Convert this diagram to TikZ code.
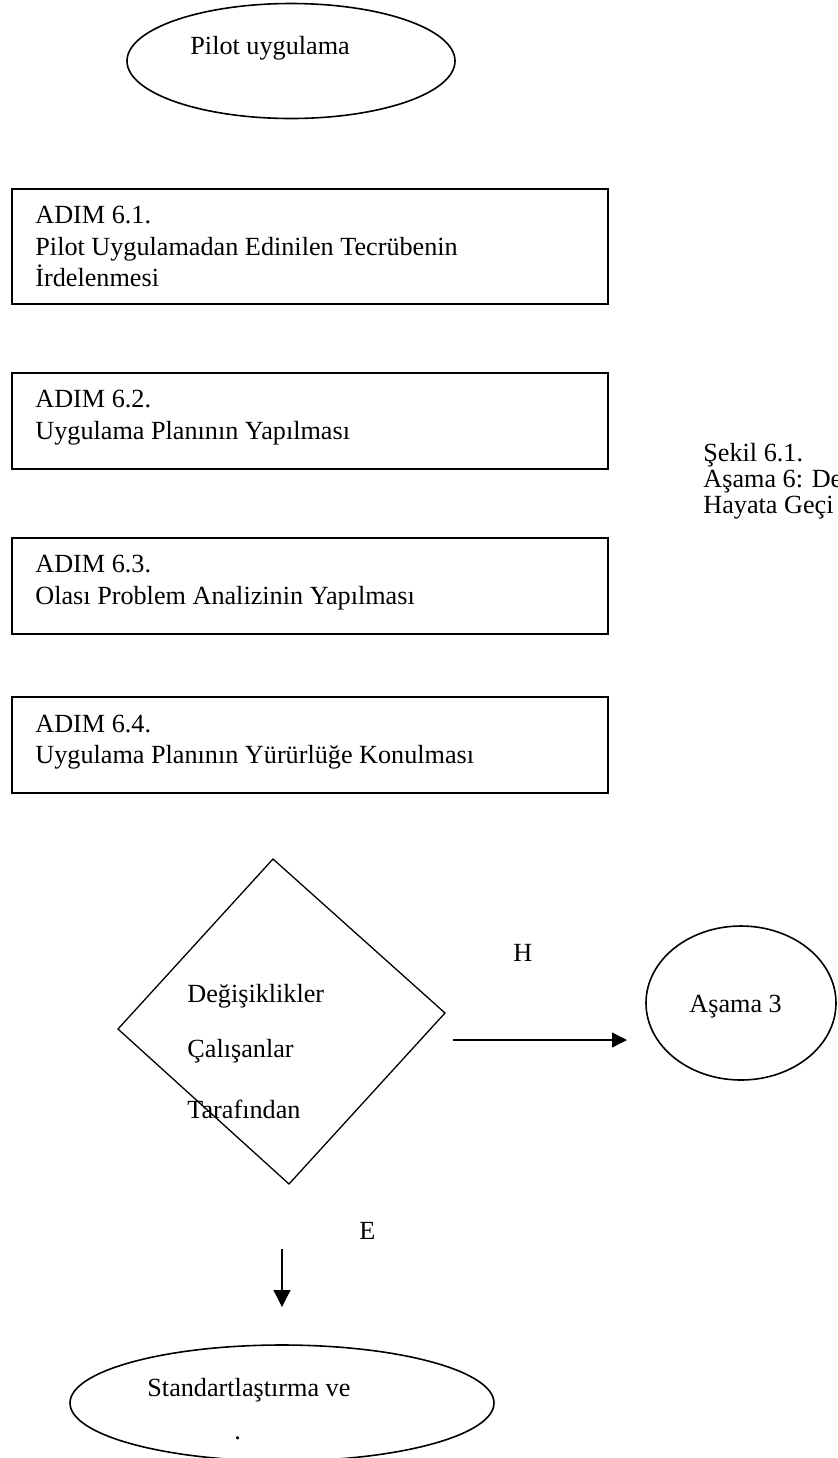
\documentclass[tikz,border=0pt]{standalone}
\usepackage{fontspec}
\setmainfont{Liberation Serif}
\usetikzlibrary{arrows.meta, shapes.geometric}

\tikzset{
  stepbox/.style={draw, line width=1pt, rectangle, inner sep=0pt},
  oval/.style={draw, line width=0.8pt, ellipse, inner sep=0pt},
  label text/.style={anchor=base west, inner sep=0pt, font=\fontsize{13.1}{16}\selectfont},
  flow arrow/.style={line width=0.6pt, -{Triangle[length=7.5pt, width=7.5pt]}},
}

\begin{document}
\begin{tikzpicture}[x=0.5pt, y=-0.5pt]
\useasboundingbox (0,0) rectangle (837,1458);
\clip (0,0) rectangle (837,1458);

% start of the stage
\node[oval, minimum width=164pt, minimum height=57.5pt] (pilot) at (291,61) {};
\node[label text] (pilottxt) at (190,54) {Pilot uygulama};

% steps of the stage
\node[stepbox, minimum width=298pt, minimum height=57.5pt] (s1) at (310,246.5) {};
\node[label text] (s1a) at (35,223) {ADIM 6.1.};
\node[label text] (s1b) at (35,255) {Pilot Uygulamadan Edinilen Tecrübenin};
\node[label text] (s1c) at (35,286) {İrdelenmesi};

\node[stepbox, minimum width=298pt, minimum height=48pt] (s2) at (310,421) {};
\node[label text] (s2a) at (35,407) {ADIM 6.2.};
\node[label text] (s2b) at (35,439) {Uygulama Planının Yapılması};

\node[stepbox, minimum width=298pt, minimum height=48pt] (s3) at (310,586) {};
\node[label text] (s3a) at (35,572) {ADIM 6.3.};
\node[label text] (s3b) at (35,604) {Olası Problem Analizinin Yapılması};

\node[stepbox, minimum width=298pt, minimum height=48pt] (s4) at (310,745) {};
\node[label text] (s4a) at (35,732) {ADIM 6.4.};
\node[label text] (s4b) at (35,763) {Uygulama Planının Yürürlüğe Konulması};

% figure caption on the right
\node[label text] (cap1) at (703,461) {Şekil 6.1.};
\node[label text] (cap2) at (703,487) {Aşama 6: De};
\node[label text] (cap3) at (703,513) {Hayata Geçi};

% decision
\coordinate (dtop) at (273,859);
\coordinate (dright) at (445,1013);
\coordinate (dbottom) at (289,1184);
\coordinate (dleft) at (118,1029);
\draw[line width=0.65pt] (dtop) -- (dright) -- (dbottom) -- (dleft) -- cycle;
\node[label text] (d1) at (187,1002) {Değişiklikler};
\node[label text] (d2) at (187,1057) {Çalışanlar};
\node[label text] (d3) at (187,1118) {Tarafından};

% "no" branch
\coordinate (hstart) at (453,1040);
\coordinate (hend) at (627,1040);
\draw[flow arrow] (hstart) -- (hend);
\node[label text] (hlab) at (513,961) {H};

\node[oval, minimum width=95pt, minimum height=77pt] (stage3) at (741,1003) {};
\node[label text] (stage3txt) at (689,1012) {Aşama 3};

% "yes" branch
\node[label text] (elab) at (359,1239) {E};
\coordinate (estart) at (282,1249);
\coordinate (eend) at (282,1307);
\draw[line width=0.6pt, -{Triangle[length=8.5pt, width=8.5pt]}] (estart) -- (eend);

\node[oval, minimum width=212pt, minimum height=58pt] (stdz) at (282,1403) {};
\node[label text] (stdztxt) at (147,1396) {Standartlaştırma ve};
\node[label text] (stdzdot) at (234,1439) {.};
\end{tikzpicture}
\end{document}
